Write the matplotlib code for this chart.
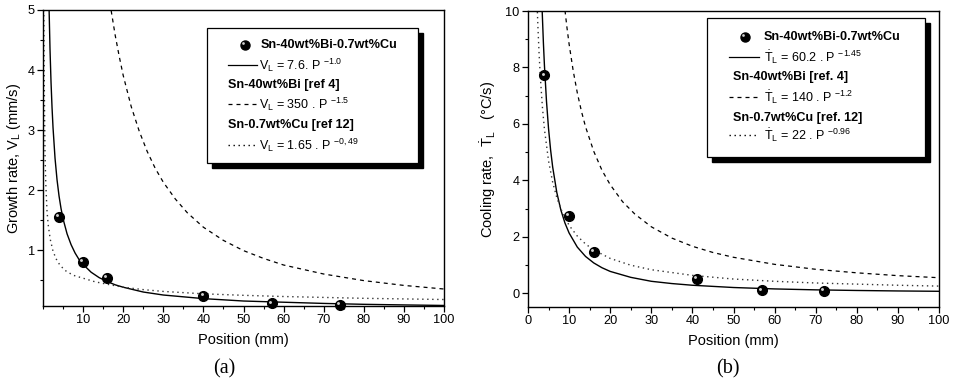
import matplotlib
matplotlib.use("Agg")
import matplotlib.pyplot as plt
from matplotlib.patches import Rectangle
from matplotlib.lines import Line2D
from matplotlib.transforms import ScaledTranslation
from matplotlib.ticker import MultipleLocator, FixedLocator

plt.rcParams['font.family'] = ['Liberation Sans', 'DejaVu Sans']
plt.rcParams['mathtext.fontset'] = 'custom'
plt.rcParams['mathtext.rm'] = 'Liberation Sans'
plt.rcParams['mathtext.it'] = 'Liberation Sans:italic'
plt.rcParams['mathtext.bf'] = 'Liberation Sans:bold'

# ---------------- Panel (a): growth rate ----------------
a_pos = [4, 10, 16, 40, 57, 74]
a_val = [1.55, 0.80, 0.53, 0.24, 0.11, 0.09]

a_fit_x = [1.5, 1.75, 2, 2.25, 2.5, 3, 3.5, 4, 4.5, 5, 6, 7, 8, 9, 10, 12, 14, 16, 18,
           20, 25, 30, 35, 40, 50, 60, 70, 80, 90, 100]
a_fit_y = [5.07, 4.34, 3.8, 3.38, 3.04, 2.53, 2.17, 1.9, 1.69, 1.52, 1.27, 1.09, 0.95, 0.84,
           0.76, 0.63, 0.54, 0.475, 0.42, 0.38, 0.30, 0.25, 0.22, 0.19, 0.15, 0.13, 0.11,
           0.095, 0.085, 0.076]

a_bi_x = [17, 18, 19, 20, 22, 24, 26, 28, 30, 33, 36, 40, 45, 50, 55, 60, 70, 80, 90, 100]
a_bi_y = [4.99, 4.58, 4.23, 3.91, 3.39, 2.98, 2.64, 2.36, 2.13, 1.85, 1.62, 1.38, 1.16,
          0.99, 0.86, 0.75, 0.60, 0.49, 0.41, 0.35]

a_cu_x = [0.2, 0.3, 0.4, 0.5, 0.7, 1.0, 1.3, 1.8, 2.5, 3.3, 4.2, 5.5, 7.5, 10, 13, 16, 20,
          25, 30, 40, 50, 60, 70, 80, 90, 100]
a_cu_y = [5.0, 3.9, 3.2, 2.6, 2.1, 1.65, 1.42, 1.18, 0.98, 0.85, 0.75, 0.66, 0.58, 0.53,
          0.47, 0.43, 0.38, 0.34, 0.31, 0.27, 0.245, 0.225, 0.21, 0.195, 0.185, 0.175]

a_xticks = [10, 20, 30, 40, 50, 60, 70, 80, 90, 100]
a_yticks = [1, 2, 3, 4, 5]

# ---------------- Panel (b): cooling rate ----------------
b_pos = [4, 10, 16, 41, 57, 72]
b_val = [7.72, 2.75, 1.46, 0.51, 0.11, 0.08]

b_fit_x = [3.45, 3.75, 4, 4.5, 5, 5.5, 6, 7, 8, 9, 10, 12, 14, 16, 18, 20, 25, 30, 35, 40,
           50, 60, 70, 80, 90, 100]
b_fit_y = [10.0, 8.86, 8.07, 6.80, 5.83, 5.08, 4.48, 3.58, 2.95, 2.49, 2.14, 1.64, 1.31,
           1.08, 0.91, 0.78, 0.57, 0.43, 0.35, 0.29, 0.21, 0.16, 0.127, 0.105, 0.088, 0.076]

b_bi_x = [9, 9.5, 10, 11, 12, 13, 14, 16, 18, 20, 23, 26, 30, 35, 40, 45, 50, 60, 70, 80,
          90, 100]
b_bi_y = [10.02, 9.39, 8.83, 7.88, 7.10, 6.45, 5.90, 5.03, 4.36, 3.85, 3.25, 2.81, 2.36,
          1.96, 1.67, 1.45, 1.28, 1.03, 0.855, 0.73, 0.63, 0.557]

b_cu_x = [2.2, 2.4, 2.7, 3, 3.5, 4, 5, 6, 7, 8, 10, 12, 14, 16, 20, 25, 30, 40, 50, 60, 70,
          80, 90, 100]
b_cu_y = [10.32, 9.49, 8.48, 7.66, 6.61, 5.81, 4.69, 3.94, 3.40, 2.99, 2.41, 2.03, 1.75,
          1.54, 1.24, 1.00, 0.84, 0.64, 0.51, 0.43, 0.37, 0.33, 0.29, 0.26]

b_xticks = [0, 10, 20, 30, 40, 50, 60, 70, 80, 90, 100]
b_yticks = [0, 2, 4, 6, 8, 10]

# legend texts
a_leg = ["Sn-40wt%Bi-0.7wt%Cu",
         r"V$_{\mathrm{L}}$ = 7.6. P $^{\mathrm{-1.0}}$",
         "Sn-40wt%Bi [ref 4]",
         r"V$_{\mathrm{L}}$ = 350 . P $^{\mathrm{-1.5}}$",
         "Sn-0.7wt%Cu [ref 12]",
         r"V$_{\mathrm{L}}$ = 1.65 . P $^{\mathrm{-0,49}}$"]
b_leg = ["Sn-40wt%Bi-0.7wt%Cu",
         r"$\dot{\mathrm{T}}_{\mathrm{L}}$ = 60.2 . P $^{\mathrm{-1.45}}$",
         "Sn-40wt%Bi [ref. 4]",
         r"$\dot{\mathrm{T}}_{\mathrm{L}}$ = 140 . P $^{\mathrm{-1.2}}$",
         "Sn-0.7wt%Cu [ref. 12]",
         r"$\dot{\mathrm{T}}_{\mathrm{L}}$ = 22 . P $^{\mathrm{-0.96}}$"]

fig = plt.figure(figsize=(9.57, 3.84), dpi=100)
axA = fig.add_axes([43/957, 78/384, 401/957, 296/384])
axB = fig.add_axes([528/957, 77/384, 411/957, 296/384])

DASH = (0, (3.2, 3.2))
DOT = (0, (1, 2.6))


def sphere(ax, x, y, trans=None, ms=7.0):
    if trans is None:
        trans = ax.transData
    ax.plot(x, y, 'o', color='black', ms=ms, transform=trans, zorder=11, clip_on=False)
    hl = trans + ScaledTranslation(-1.3/72, 1.3/72, fig.dpi_scale_trans)
    ax.plot(x, y, 'o', color='#d0d0d0', ms=ms*0.3, mec='none', transform=hl, zorder=12,
            clip_on=False)


def style(ax):
    for s in ax.spines.values():
        s.set_linewidth(1.0)
    ax.tick_params(which='major', direction='out', length=4, width=0.9, labelsize=9.2,
                   pad=2)
    ax.tick_params(which='minor', direction='out', length=2.5, width=0.8)


def draw_legend(ax, box, rows_y, texts, mk_x, txt1_x, line_x, txt_x, bold_x,
                fs_bold=9.1, fs_reg=9.0):
    x0, y0, x1, y1 = box
    dx = 5 / (ax.bbox.width)
    dy = 5 / (ax.bbox.height)
    ax.add_patch(Rectangle((x0 + dx, y0 - dy), x1 - x0, y1 - y0, transform=ax.transAxes,
                           facecolor='black', edgecolor='black', zorder=7))
    ax.add_patch(Rectangle((x0, y0), x1 - x0, y1 - y0, transform=ax.transAxes,
                           facecolor='white', edgecolor='black', lw=0.9, zorder=8))
    sphere(ax, [mk_x], [rows_y[0]], trans=ax.transAxes, ms=6.5)
    ax.text(txt1_x, rows_y[0], texts[0], transform=ax.transAxes, fontsize=fs_bold,
            fontweight='bold', va='center', ha='left', zorder=10)
    styles = ['-', DASH, DOT]
    for i, ls in enumerate(styles):
        ry = rows_y[2 * i + 1]
        ax.add_line(Line2D(line_x, [ry, ry], transform=ax.transAxes, color='black',
                           lw=0.9 if ls != DOT else 1.0, ls=ls, zorder=10))
        ax.text(txt_x, ry, texts[2 * i + 1], transform=ax.transAxes, fontsize=fs_reg,
                va='center', ha='left', zorder=10)
        if i > 0:
            ax.text(bold_x, rows_y[2 * i], texts[2 * i], transform=ax.transAxes,
                    fontsize=fs_bold, fontweight='bold', va='center', ha='left', zorder=10)


# ---- panel a ----
axA.plot(a_fit_x, a_fit_y, color='black', lw=1.0)
axA.plot(a_bi_x, a_bi_y, color='black', lw=0.9, ls=DASH)
axA.plot(a_cu_x, a_cu_y, color='#333333', lw=1.0, ls=DOT)
sphere(axA, a_pos, a_val)
axA.set_xlim(0, 100)
axA.set_ylim(0.067, 5)
axA.xaxis.set_major_locator(FixedLocator(a_xticks))
axA.xaxis.set_minor_locator(MultipleLocator(5))
axA.yaxis.set_major_locator(FixedLocator(a_yticks))
axA.yaxis.set_minor_locator(MultipleLocator(0.5))
style(axA)
axA.set_xlabel("Position (mm)", fontsize=10.5, labelpad=5)
axA.set_ylabel(r"Growth rate, V$_{\mathrm{L}}$ (mm/s)", fontsize=10.5, labelpad=3)
draw_legend(axA, (0.409, 0.483, 0.935, 0.939),
            [0.882, 0.814, 0.747, 0.682, 0.611, 0.544], a_leg,
            mk_x=0.504, txt1_x=0.544, line_x=[0.461, 0.534], txt_x=0.539, bold_x=0.461)
fig.text(224/957, 1 - 369/384, "(a)", fontsize=14.5, family='Liberation Serif',
         ha='center', va='center')

# ---- panel b ----
axB.plot(b_fit_x, b_fit_y, color='black', lw=1.0)
axB.plot(b_bi_x, b_bi_y, color='black', lw=0.9, ls=DASH)
axB.plot(b_cu_x, b_cu_y, color='#333333', lw=1.0, ls=DOT)
sphere(axB, b_pos, b_val)
axB.set_xlim(0, 100)
axB.set_ylim(-0.48, 10)
axB.xaxis.set_major_locator(FixedLocator(b_xticks))
axB.xaxis.set_minor_locator(MultipleLocator(5))
axB.yaxis.set_major_locator(FixedLocator(b_yticks))
axB.yaxis.set_minor_locator(MultipleLocator(1))
style(axB)
axB.set_xlabel("Position (mm)", fontsize=10.5, labelpad=5)
axB.set_ylabel(r"Cooling rate,  $\dot{\mathrm{T}}_{\mathrm{L}}$   (°C/s)", fontsize=10.5,
               labelpad=5)
draw_legend(axB, (0.4355, 0.507, 0.966, 0.976),
            [0.912, 0.845, 0.777, 0.709, 0.639, 0.581], b_leg,
            mk_x=0.528, txt1_x=0.574, line_x=[0.489, 0.562], txt_x=0.574, bold_x=0.499)
fig.text(728/957, 1 - 369/384, "(b)", fontsize=14.5, family='Liberation Serif',
         ha='center', va='center')

fig.savefig("out.png", dpi=100)
